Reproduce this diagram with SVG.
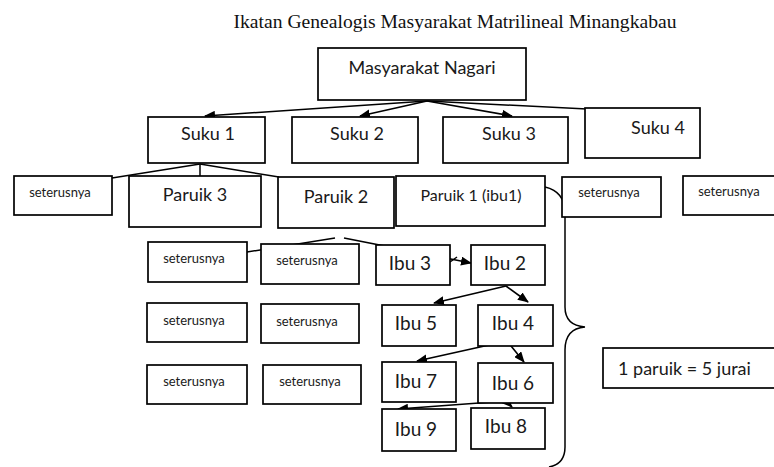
<svg xmlns="http://www.w3.org/2000/svg" width="774" height="467" viewBox="0 0 774 467">
<defs>
<marker id="ah" markerWidth="11" markerHeight="9" refX="10" refY="4.5" orient="auto" markerUnits="userSpaceOnUse">
<path d="M0,0 L11,4.5 L0,9 Z" fill="#000"/>
</marker>
<style>
.b{fill:#fff;stroke:#000;stroke-width:1.7}
.t{font-family:Lato,"Open Sans",sans-serif;fill:#1a1a1a}
.L{font-size:18px}
.M{font-size:16px}
.S{font-size:13px}
.I{font-size:19px}
.c{fill:none;stroke:#000;stroke-width:1.5}
.a{fill:none;stroke:#000;stroke-width:1.6;marker-end:url(#ah)}
</style>
</defs>
<rect width="774" height="467" fill="#fff"/>
<text x="455" y="28" text-anchor="middle" font-family="'Liberation Serif',serif" font-size="19.6" fill="#111">Ikatan Genealogis Masyarakat Matrilineal Minangkabau</text>

<g id="connectors">
<path class="a" d="M427,101 L205,116"/>
<path class="a" d="M427,101 L360,116"/>
<path class="a" d="M427,101 L512,116"/>
<path class="c" d="M427,101 L587,109"/>
<path class="c" d="M200,164 L112,178"/>
<path class="c" d="M200,164 L200,176"/>
<path class="c" d="M200,164 L279,177"/>
<path class="c" d="M335,238 L247,252"/>
<path class="a" d="M344,238 L471,263"/>
<path class="c" d="M450,262 L457,257"/>
<path class="a" d="M506,286 L434,303"/>
<path class="a" d="M506,286 L528,302"/>
<path class="a" d="M507,341 L417,361"/>
<path class="a" d="M507,341 L524,362"/>
<path class="a" d="M506,401 L398,409"/>
<path class="a" d="M506,401 L512,407"/>
<path class="c" stroke-width="1.2" d="M545,187 C558,190 565,198 565,213 L565,307 C565,320 572,326 585,327 C572,328 565,335 565,350 L565,447 C565,458 560,465 549,467"/>
</g>

<g id="masyarakat-nagari"><rect class="b" x="318" y="48" width="208" height="52"/><text class="t L" x="422" y="74" text-anchor="middle">Masyarakat Nagari</text></g>
<g id="suku1"><rect class="b" x="148" y="117" width="117" height="46"/><text class="t L" x="208" y="140" text-anchor="middle">Suku 1</text></g>
<g id="suku2"><rect class="b" x="292" y="117" width="126" height="46"/><text class="t L" x="357" y="140" text-anchor="middle">Suku 2</text></g>
<g id="suku3"><rect class="b" x="443" y="117" width="125" height="46"/><text class="t L" x="509" y="140" text-anchor="middle">Suku 3</text></g>
<g id="suku4"><rect class="b" x="585" y="108" width="115" height="50"/><text class="t L" x="658" y="134" text-anchor="middle">Suku 4</text></g>

<g id="seterusnya-r2a"><rect class="b" x="14" y="176" width="98" height="39"/><text class="t S" x="60" y="197" text-anchor="middle">seterusnya</text></g>
<g id="paruik3"><rect class="b" x="129" y="176" width="132" height="51"/><text class="t L" x="195" y="201" text-anchor="middle">Paruik 3</text></g>
<g id="paruik2"><rect class="b" x="278" y="177" width="116" height="51"/><text class="t L" x="336" y="203" text-anchor="middle">Paruik 2</text></g>
<g id="paruik1"><rect class="b" x="396" y="176" width="149" height="50"/><text class="t M" x="471" y="201" text-anchor="middle">Paruik 1 (ibu1)</text></g>
<g id="seterusnya-r2b"><rect class="b" x="562" y="177" width="99" height="40"/><text class="t S" x="609" y="197" text-anchor="middle">seterusnya</text></g>
<g id="seterusnya-r2c"><rect class="b" x="683" y="176" width="95" height="39"/><text class="t S" x="729" y="196" text-anchor="middle">seterusnya</text></g>

<g id="seterusnya-r3a"><rect class="b" x="148" y="242" width="99" height="40"/><text class="t S" x="194" y="263" text-anchor="middle">seterusnya</text></g>
<g id="seterusnya-r3b"><rect class="b" x="261" y="244" width="98" height="40"/><text class="t S" x="307" y="265" text-anchor="middle">seterusnya</text></g>
<g id="ibu3"><rect class="b" x="376" y="245" width="74" height="40"/><text class="t I" x="410" y="270" text-anchor="middle">Ibu 3</text></g>
<g id="ibu2"><rect class="b" x="471" y="245" width="74" height="40"/><text class="t I" x="505" y="270" text-anchor="middle">Ibu 2</text></g>

<g id="seterusnya-r4a"><rect class="b" x="147" y="303" width="100" height="39"/><text class="t S" x="194" y="325" text-anchor="middle">seterusnya</text></g>
<g id="seterusnya-r4b"><rect class="b" x="261" y="304" width="98" height="39"/><text class="t S" x="307" y="326" text-anchor="middle">seterusnya</text></g>
<g id="ibu5"><rect class="b" x="382" y="305" width="74" height="41"/><text class="t I" x="416" y="330" text-anchor="middle">Ibu 5</text></g>
<g id="ibu4"><rect class="b" x="478" y="305" width="75" height="41"/><text class="t I" x="513" y="330" text-anchor="middle">Ibu 4</text></g>

<g id="seterusnya-r5a"><rect class="b" x="147" y="365" width="100" height="39"/><text class="t S" x="194" y="386" text-anchor="middle">seterusnya</text></g>
<g id="seterusnya-r5b"><rect class="b" x="263" y="365" width="98" height="39"/><text class="t S" x="310" y="386" text-anchor="middle">seterusnya</text></g>
<g id="ibu7"><rect class="b" x="382" y="362" width="74" height="40"/><text class="t I" x="416" y="388" text-anchor="middle">Ibu 7</text></g>
<g id="ibu6"><rect class="b" x="478" y="363" width="75" height="40"/><text class="t I" x="513" y="390" text-anchor="middle">Ibu 6</text></g>

<g id="ibu9"><rect class="b" x="382" y="409" width="74" height="42"/><text class="t I" x="416" y="436" text-anchor="middle">Ibu 9</text></g>
<g id="ibu8"><rect class="b" x="471" y="408" width="74" height="41"/><text class="t I" x="506" y="433" text-anchor="middle">Ibu 8</text></g>

<g id="note"><rect class="b" x="603" y="348" width="172" height="40"/><text class="t L" x="618" y="375">1 paruik = 5 jurai</text></g>
</svg>
